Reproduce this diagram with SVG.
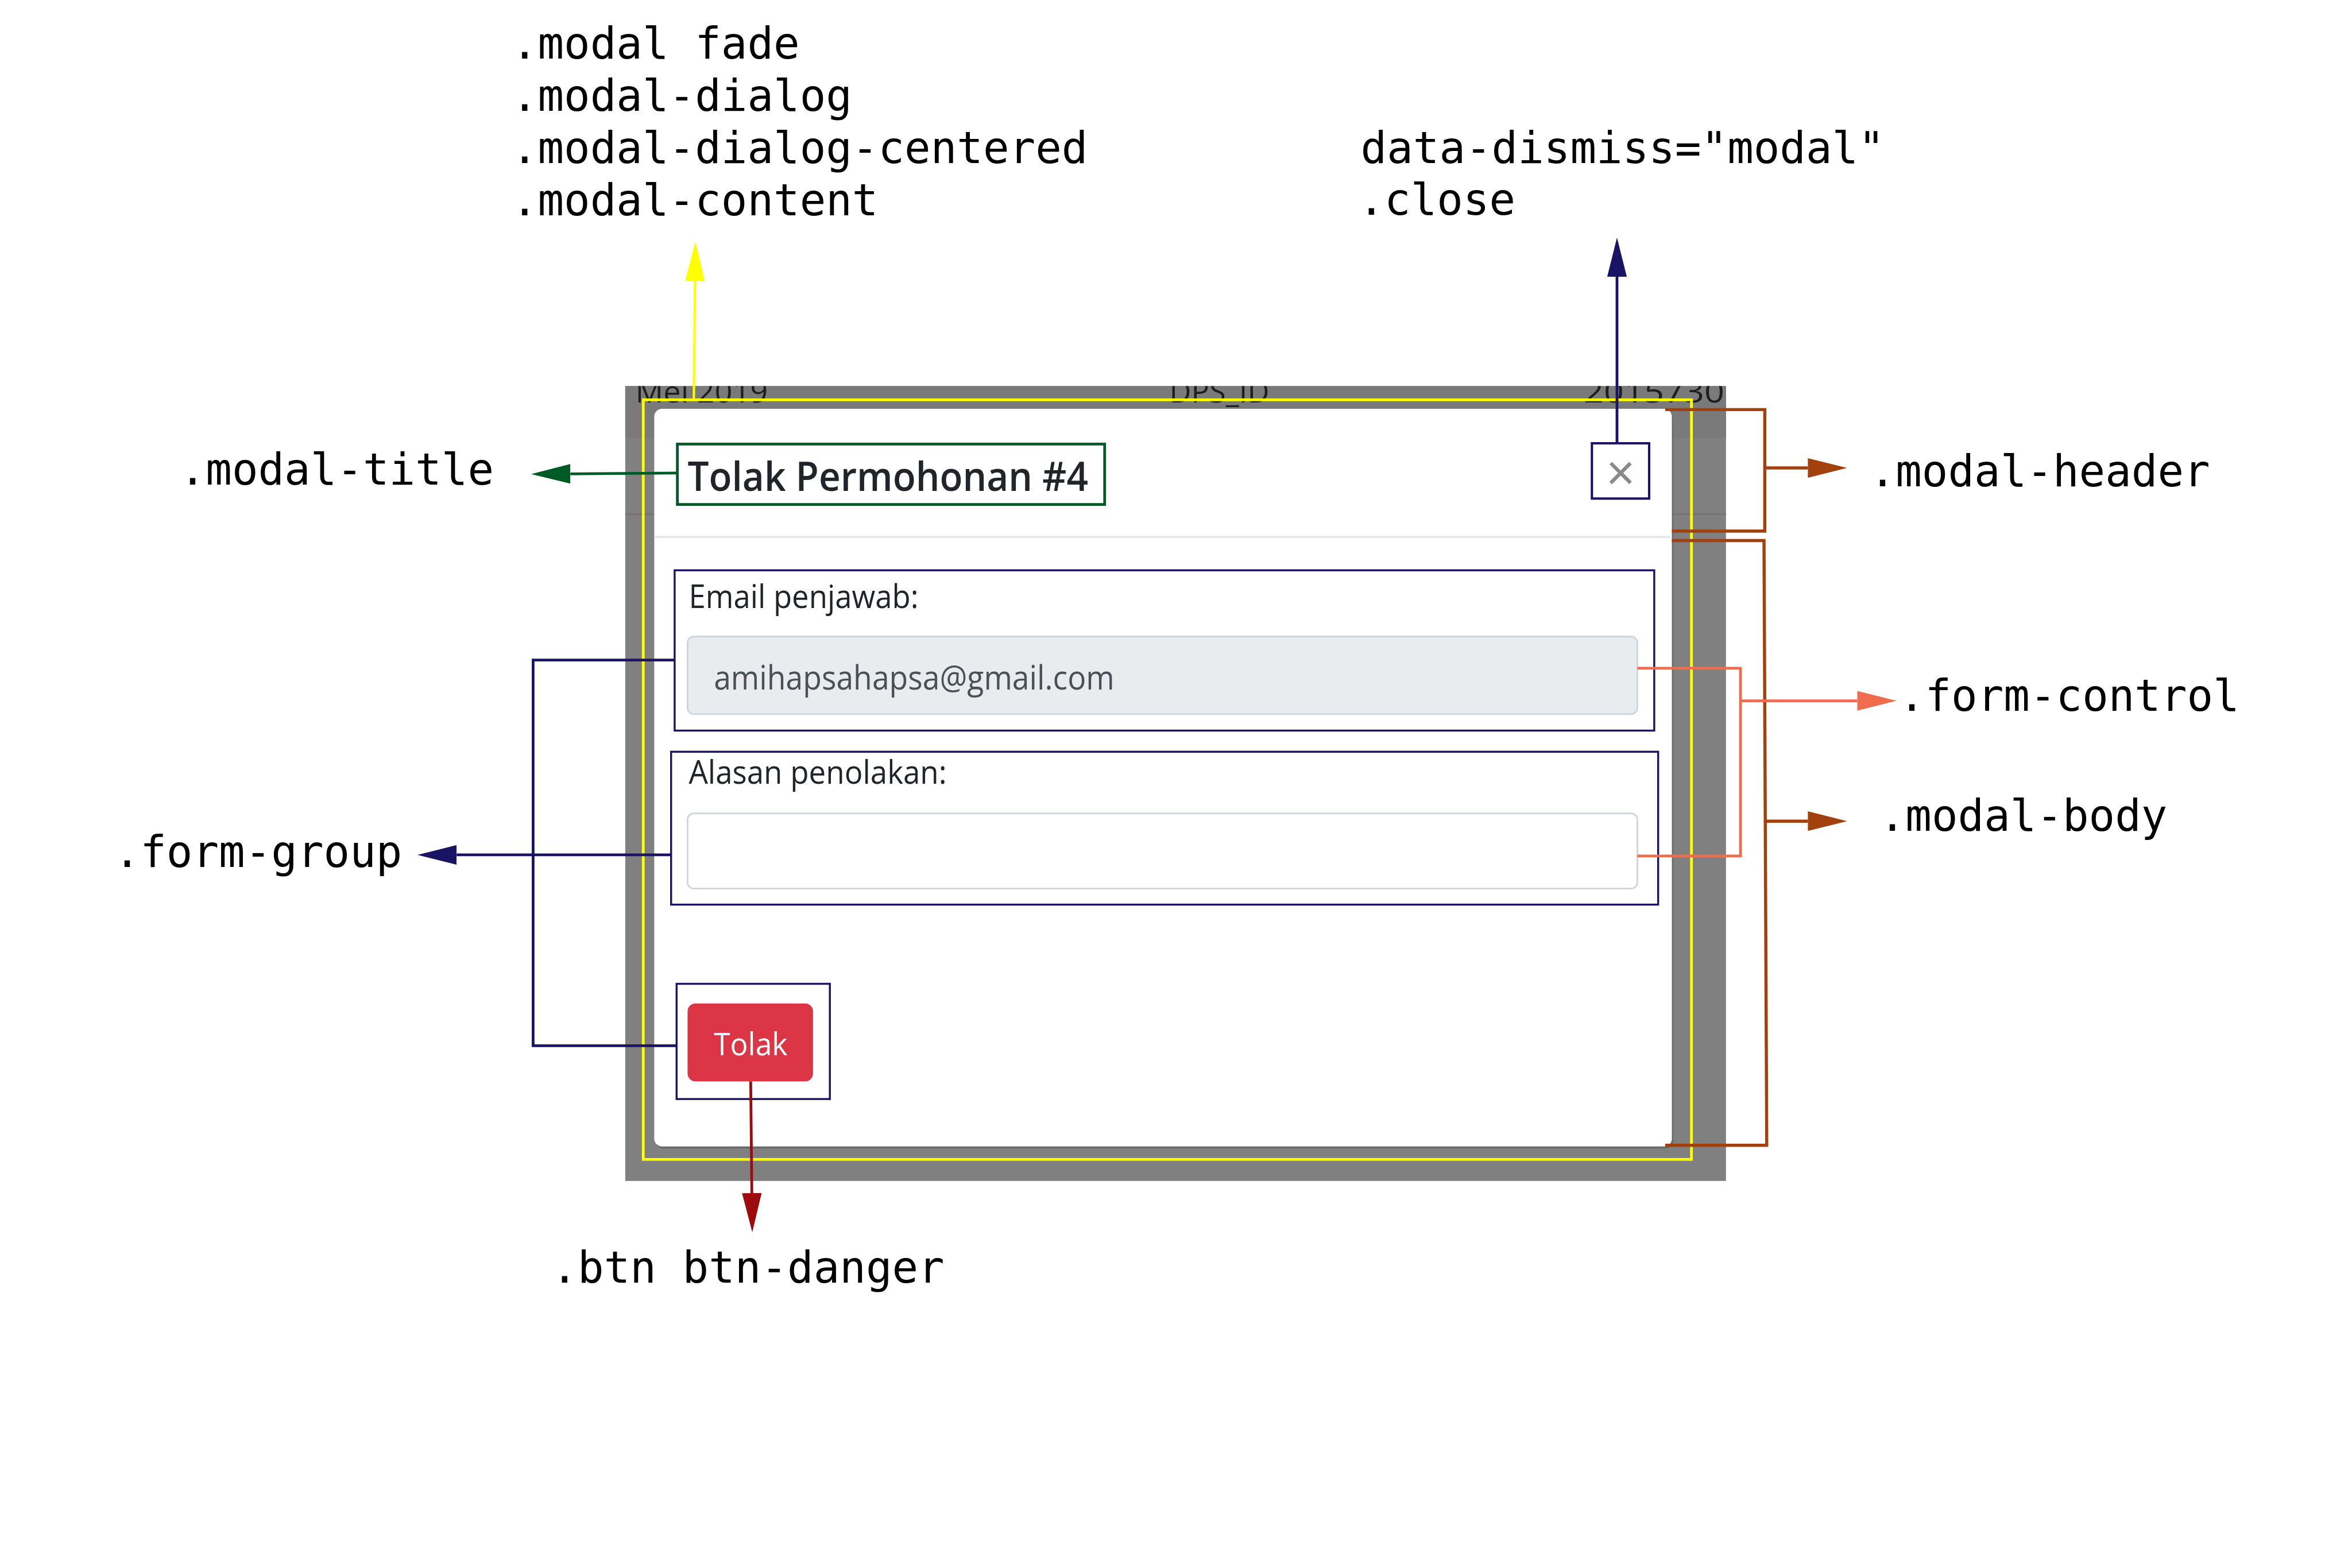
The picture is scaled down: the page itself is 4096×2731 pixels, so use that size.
<svg xmlns="http://www.w3.org/2000/svg" width="4096" height="2731" viewBox="0 0 4096 2731">
<style>
.lbl{font-family:"DejaVu Sans Mono","Liberation Mono",monospace;font-size:111px;fill:#000}
.ui{font-family:"Open Sans","Noto Sans","Liberation Sans",sans-serif;fill:#212529}
.bg{font-family:"Open Sans","Noto Sans","Liberation Sans",sans-serif;fill:#1e1e1e;font-size:78px}
.conn{fill:none;stroke-linejoin:miter}
</style>
<defs>
<marker id="mYel" markerUnits="userSpaceOnUse" markerWidth="100" markerHeight="50" viewBox="0 0 100 50" refX="0" refY="25" orient="auto"><path d="M0,0 L100,25 L0,50 z" fill="#ffff00"/></marker>
<marker id="mNavy" markerUnits="userSpaceOnUse" markerWidth="100" markerHeight="50" viewBox="0 0 100 50" refX="0" refY="25" orient="auto"><path d="M0,0 L100,25 L0,50 z" fill="#1b1464"/></marker>
<marker id="mGreen" markerUnits="userSpaceOnUse" markerWidth="100" markerHeight="50" viewBox="0 0 100 50" refX="0" refY="25" orient="auto"><path d="M0,0 L100,25 L0,50 z" fill="#005a26"/></marker>
<marker id="mRed" markerUnits="userSpaceOnUse" markerWidth="100" markerHeight="50" viewBox="0 0 100 50" refX="0" refY="25" orient="auto"><path d="M0,0 L100,25 L0,50 z" fill="#9e0b0f"/></marker>
<marker id="mBrown" markerUnits="userSpaceOnUse" markerWidth="100" markerHeight="50" viewBox="0 0 100 50" refX="0" refY="25" orient="auto"><path d="M0,0 L100,25 L0,50 z" fill="#a3410e"/></marker>
<marker id="mOrange" markerUnits="userSpaceOnUse" markerWidth="100" markerHeight="50" viewBox="0 0 100 50" refX="0" refY="25" orient="auto"><path d="M0,0 L100,25 L0,50 z" fill="#f06c4e"/></marker>
<clipPath id="clipGray"><rect x="1595" y="985" width="2808" height="2028"/></clipPath>
</defs>
<rect width="4096" height="2731" fill="#fff"/>
<g transform="scale(0.682667)">
  <g id="screenshot">
    <rect x="1595" y="985" width="2808" height="2028" fill="#808080"/>
    <rect x="1595" y="985" width="2808" height="132" fill="#7a7a7a"/>
    <line x1="1595" y1="1312" x2="4403" y2="1312" stroke="#727272" stroke-width="4"/>
    <g clip-path="url(#clipGray)">
      <text class="bg" x="1621" y="1027" textLength="338" lengthAdjust="spacingAndGlyphs">Mei 2019</text>
      <text class="bg" x="2983" y="1027" textLength="255" lengthAdjust="spacingAndGlyphs">DPS_ID</text>
      <text class="bg" x="4040" y="1027" textLength="410" lengthAdjust="spacingAndGlyphs">20157300</text>
    </g>
    <rect x="1672" y="1048" width="2597" height="1882" rx="20" fill="#6a6a6a"/>
    <rect x="1669" y="1043" width="2596" height="1882" rx="20" fill="#fff"/>
    <line x1="1669" y1="1370" x2="4262" y2="1370" stroke="#e3e6ea" stroke-width="5"/>
  </g>
  <g id="modal-content-outline">
    <rect x="1641" y="1020" width="2674" height="1938" fill="none" stroke="#ffff00" stroke-width="7"/>
  </g>
  <g id="modal-title">
    <rect x="1728" y="1133" width="1090" height="154" fill="none" stroke="#005a26" stroke-width="7"/>
    <text class="ui" x="1754" y="1252" font-size="104" font-weight="600" textLength="1022" lengthAdjust="spacingAndGlyphs">Tolak Permohonan #4</text>
  </g>
  <g id="close">
    <rect x="4061" y="1131" width="146" height="141" fill="none" stroke="#1b1464" stroke-width="6"/>
    <text x="4134" y="1250" font-family="Liberation Sans, Arial, sans-serif" font-size="128" fill="#8a8a8a" text-anchor="middle">×</text>
  </g>
  <g id="form-group-1">
    <rect x="1721" y="1455" width="2499" height="409" fill="none" stroke="#1b1464" stroke-width="5"/>
    <text class="ui" x="1757" y="1552" font-size="84" textLength="586" lengthAdjust="spacingAndGlyphs">Email penjawab:</text>
  </g>
  <g id="form-control-1">
    <rect x="1754" y="1624" width="2423" height="198" rx="16" fill="#e9ecef" stroke="#ced4da" stroke-width="4"/>
    <text class="ui" x="1821" y="1759" font-size="86" style="fill:#495057" textLength="1022" lengthAdjust="spacingAndGlyphs">amihapsahapsa@gmail.com</text>
  </g>
  <g id="form-group-2">
    <rect x="1712" y="1918" width="2518" height="390" fill="none" stroke="#1b1464" stroke-width="5"/>
    <text class="ui" x="1757" y="2000" font-size="84" textLength="658" lengthAdjust="spacingAndGlyphs">Alasan penolakan:</text>
  </g>
  <g id="form-control-2">
    <rect x="1754" y="2075" width="2423" height="192" rx="16" fill="#fff" stroke="#ced4da" stroke-width="4"/>
  </g>
  <g id="btn-group">
    <rect x="1726" y="2510" width="391" height="294" fill="none" stroke="#1b1464" stroke-width="5"/>
  </g>
  <g id="btn-danger">
    <rect x="1754" y="2560" width="320" height="199" rx="20" fill="#dc3545"/>
    <text class="ui" x="1821" y="2692" font-size="80" style="fill:#fff" textLength="188" lengthAdjust="spacingAndGlyphs">Tolak</text>
  </g>
  <g id="label-modal">
    <text class="lbl" x="1305" y="149">.modal fade</text>
    <text class="lbl" x="1305" y="283">.modal-dialog</text>
    <text class="lbl" x="1305" y="416">.modal-dialog-centered</text>
    <text class="lbl" x="1305" y="549">.modal-content</text>
  </g>
  <g id="label-close">
    <text class="lbl" x="3471" y="416">data-dismiss="modal"</text>
    <text class="lbl" x="3465" y="548">.close</text>
  </g>
  <g id="label-modal-title"><text class="lbl" x="458" y="1236">.modal-title</text></g>
  <g id="label-form-group"><text class="lbl" x="291" y="2212">.form-group</text></g>
  <g id="label-modal-header"><text class="lbl" x="4769" y="1240">.modal-header</text></g>
  <g id="label-form-control"><text class="lbl" x="4844" y="1813">.form-control</text></g>
  <g id="label-modal-body"><text class="lbl" x="4794" y="2120">.modal-body</text></g>
  <g id="label-btn"><text class="lbl" x="1407" y="3272">.btn btn-danger</text></g>
  <g id="connectors" class="conn">
    <path d="M1770,1020 L1773,717" stroke="#ffff00" stroke-width="6" marker-end="url(#mYel)"/>
    <path d="M4125,1130 L4125,706" stroke="#1b1464" stroke-width="7" marker-end="url(#mNavy)"/>
    <path d="M1728,1207 L1455,1209" stroke="#005a26" stroke-width="7" marker-end="url(#mGreen)"/>
    <path d="M1721,1684 H1360 V2668 H1726" stroke="#1b1464" stroke-width="7"/>
    <path d="M1712,2181 L1165,2181" stroke="#1b1464" stroke-width="7" marker-end="url(#mNavy)"/>
    <path d="M1915,2759 L1918,3044" stroke="#9e0b0f" stroke-width="7" marker-end="url(#mRed)"/>
    <path d="M4248,1045 H4502 V1355 H4265" stroke="#a3410e" stroke-width="8"/>
    <path d="M4502,1194 H4612" stroke="#a3410e" stroke-width="8" marker-end="url(#mBrown)"/>
    <path d="M4265,1379 H4500 L4507,2922 H4248" stroke="#a3410e" stroke-width="8"/>
    <path d="M4505,2095 H4612" stroke="#a3410e" stroke-width="8" marker-end="url(#mBrown)"/>
    <path d="M4177,1705 H4440 V2184 H4177" stroke="#f06c4e" stroke-width="7"/>
    <path d="M4440,1788 H4738" stroke="#f06c4e" stroke-width="7" marker-end="url(#mOrange)"/>
  </g>
</g>
</svg>
